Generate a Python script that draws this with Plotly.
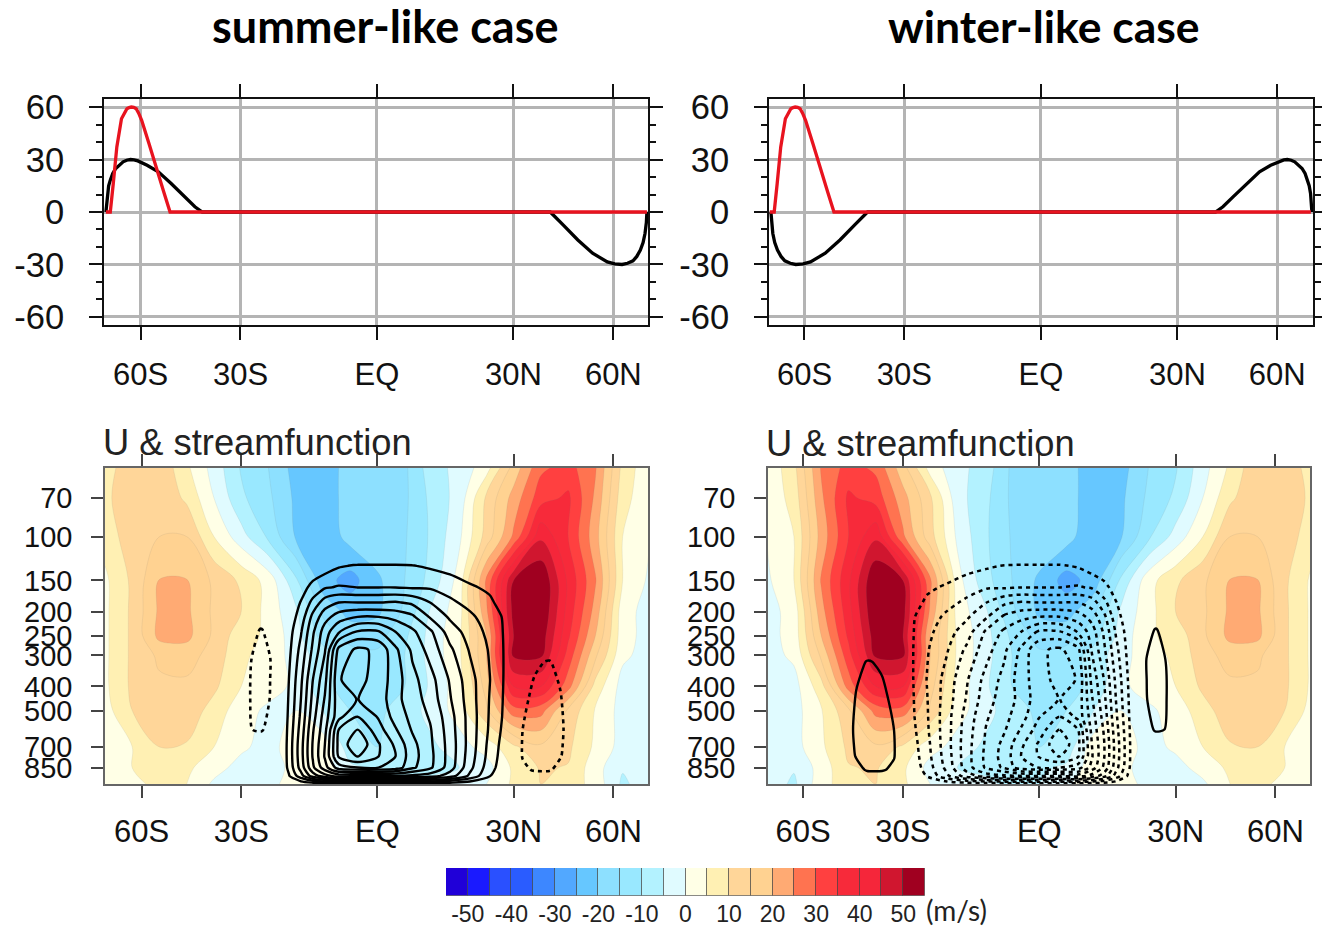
import plotly.graph_objects as go

# ---------- line panels ----------
black_s_x = [-.993,-.990,-.988,-.983,-.977,-.968,-.957,-.944,-.930,-.917,-.903,-.890,-.876,-.842,-.801,-.754,-.707,-.667,-.640,.635,.682,.736,.790,.844,.871,.898,.918,.938,.952,.965,.975,.982,.987,.989]
black_s_v = [0,6,10.6,15,18.2,22,24.9,27,28.7,29.6,30,29.8,29.2,26.7,23,16.3,9.1,3,0,0,-7.4,-16,-23.6,-28.5,-29.6,-30,-29.3,-27.9,-25.4,-21.8,-17.5,-12.3,-6,0]
red_x = [-.993,-.977,-.966,-.953,-.936,-.925,-.916,-.908,-.900,-.891,-.882,-.873,-.862,-.835,-.808,-.781,-.758,.989]
red_v = [0,0,16.3,37.2,53.3,57,59,59.7,60,59.8,59,56.5,52.4,39,24.7,11.4,0,0]
black_w_x = [-.989,-.987,-.982,-.975,-.965,-.952,-.938,-.918,-.898,-.871,-.844,-.790,-.736,-.682,-.635,.640,.667,.707,.754,.801,.842,.876,.890,.903,.917,.930,.944,.957,.968,.977,.983,.988,.990,.993]
black_w_v = [0,-6,-12.3,-17.5,-21.8,-25.4,-27.9,-29.3,-30,-29.6,-28.5,-23.6,-16,-7.4,0,0,3,9.1,16.3,23,26.7,29.2,29.8,30,29.6,28.7,27,24.9,22,18.2,15,10.6,6,0]

lat_ticks = [-0.866,-0.5,0,0.5,0.866]
lat_text = ["60S","30S","EQ","30N","60N"]
y_major = [-60,-30,0,30,60]
y_major_text = ["-60","-30","0","30","60"]
y_minor = [-50,-40,-20,-10,10,20,40,50]

# ---------- zonal wind ----------
u_x = [-1,-.9,-.8,-.7,-.6,-.5,-.4,-.3,-.2,-.1,0,.1,.2,.3,.4,.5,.6,.7,.8,.9,1]
u_p = [53,70,100,150,200,250,300,400,500,700,850,986]
u_summer = [
 [8,13,14,6,-2,-10.5,-15,-22,-24,-17,-16,-16,-7,-3.5,3,17,29,32,25.5,8.5,1],
 [9,13,14,9,0,-9,-14,-21,-24,-17,-16,-16,-8.5,-3,11,22,33,36,24,7,1],
 [7,13,15,15,5,-3,-11,-20.5,-24,-18,-16,-15.5,-9,-1,12,26,44,35,22,5,0],
 [4,11,20.2,20.2,14,9,3,-9,-23,-27,-21,-15,-8,2,26,50,55,39,25.5,5,-1],
 [4,11,21,21,14,10,3,-4,-16,-22,-21,-14,-4,3,24,52,55,38,23,2,-2],
 [4,11,21.5,21.5,14,7,4,-3,-12,-17,-17,-11,-3,4,20,50,53,36,20,2,-2],
 [4,11,16,17,13,6,3,-2,-8,-13,-14,-10,-3,4,20,51,51,33,16,1,-2],
 [4,11,14,14,11,5,2,-1,-8,-13,-13,-10,-4,3,17,40,40,27,8,-2,-3],
 [3,10,13,13,8,2,-1,0,-5,-10,-11,-8,-3,2,14,28,27,14,4.5,-2,-3],
 [2,5,10,9.5,5,1,-2,3,3,-8,-10,-8,-6,-2,2,9,14,11,4,-2,-3],
 [1,5,7,6,2,-2,-3,2,3,-4,-6,-7,-6,-5,-2,6,10.5,9.7,2,-4.5,-2],
 [1,3,7,5,-1,-2,-2,3,4,-1,-5,-6,-4,-3,0,6,10,8,3,-6,-2],
]
u_winter = [
 [1,8.5,25.5,32,29,17,3,-3.5,-7,-16,-16,-17,-24,-22,-15,-10.5,-2,6,14,13,8],
 [1,7,24,36,33,22,11,-3,-8.5,-16,-16,-17,-24,-21,-14,-9,0,9,14,13,9],
 [0,5,22,35,44,26,12,-1,-9,-15.5,-16,-18,-24,-20.5,-11,-3,5,15,15,13,7],
 [-1,5,25.5,39,55,50,26,2,-8,-15,-21,-27,-23,-9,3,9,14,20.2,20.2,11,4],
 [-2,2,23,38,55,52,24,3,-4,-14,-21,-22,-16,-4,3,10,14,21,21,11,4],
 [-2,2,20,36,53,50,20,4,-3,-11,-17,-17,-12,-3,4,7,14,21.5,21.5,11,4],
 [-2,1,16,33,51,51,20,4,-3,-10,-14,-13,-8,-2,3,6,13,17,16,11,4],
 [-3,-2,8,27,40,40,17,3,-4,-10,-13,-13,-8,-1,2,5,11,14,14,11,4],
 [-3,-2,4.5,14,27,28,14,2,-3,-8,-11,-10,-5,0,-1,2,8,13,13,10,3],
 [-3,-2,4,11,14,9,2,-2,-6,-8,-10,-8,3,3,-2,1,5,9.5,10,5,2],
 [-2,-4.5,2,9.7,10.5,6,-2,-5,-6,-7,-6,-4,3,2,-3,-2,2,6,7,5,1],
 [-2,-6,3,8,10,6,0,-3,-4,-6,-5,-1,4,3,-2,-2,-1,5,7,3,1],
]

# ---------- streamfunction (contour number, main cell) ----------
psi_p = [118,131,160,184,210,241,284,376,451,529,596,684,765,847,915,992]
psi_s_x = [-.354,-.325,-.281,-.237,-.193,-.142,-.073,.004,.066,.128,.193,.266,.339,.412,.460,.504]
psi_summer = [
 [0]*16,
 [0,0,0,.3,.45,.9,1.1,1.1,1.1,1.05,.85,.6,.3,0,0,0],
 [0,.1,.6,1.3,1.9,2.1,2,2,2,1.9,1.9,1.6,1.15,.8,.2,0],
 [0,.3,1.05,2.3,3.5,4,4,4,4.1,3.8,3,2.2,1.7,1.2,.6,0],
 [0,.45,1.4,3.3,4.6,5.5,6,6,5.7,5.2,3.9,2.85,2.2,1.5,.95,0],
 [0,.6,1.9,3.85,5.5,6.9,8.1,8.1,7,6.2,5.2,3.5,2.6,1.7,1,0],
 [0,.75,2.3,4.2,5.9,9.3,10.2,9.8,8.2,6.8,5.6,4.2,2.9,1.9,1.05,0],
 [0,1,2.8,5,6.7,9.95,10.3,9.6,8.5,7.3,6.4,4.9,3.4,2.03,1.05,0],
 [0,1.1,3,5.3,7.1,9.7,10.02,9.6,8.3,7.5,6.6,5.1,3.5,1.95,1,0],
 [0,1.2,3.2,5.6,7.5,9.7,11,9.9,8.6,7.7,6.9,5.4,3.6,1.9,.95,0],
 [0,1.3,3.4,5.9,7.7,11,12,10.4,9.1,7.9,7.1,5.5,3.6,1.85,.85,0],
 [0,1.4,3.6,6.1,8,11.3,12.8,11.1,9.8,8.3,7.2,5.6,3.6,1.7,.7,0],
 [0,1.4,3.6,6.1,8.1,11.1,12,11,10,8.4,7.3,5.6,3.5,1.6,.6,0],
 [0,1.3,3.4,5.8,7.6,9.5,10,10,9.6,8.2,7.2,5.5,3.3,1.4,.5,0],
 [0,.9,2.6,4.5,5.6,6.5,6,6,6,5.8,5.5,4.5,2.8,1.05,.2,0],
 [0]*16,
]
psi_w_x = [-.504,-.460,-.412,-.339,-.266,-.193,-.128,-.066,-.004,.073,.142,.193,.237,.281,.325,.354]
psi_winter = [
 [0]*16,
 [0,0,0,.3,.6,.85,1.05,1.1,1.1,1.1,.9,.45,.3,0,0,0],
 [0,.2,.8,1.15,1.6,1.9,1.9,2,2,2,2.1,1.9,1.3,.6,.1,0],
 [0,.6,1.2,1.7,2.2,3,3.8,4.1,4,4,4,3.5,2.3,1.05,.3,0],
 [0,.95,1.5,2.2,2.85,3.9,5.2,5.7,6,6,5.5,4.6,3.3,1.4,.45,0],
 [0,1,1.7,2.6,3.5,5.2,6.2,7,8.1,8.1,6.9,5.5,3.85,1.9,.6,0],
 [0,1.05,1.9,2.9,4.2,5.6,6.8,8.2,9.8,10.2,9.3,5.9,4.2,2.3,.75,0],
 [0,1.05,2.03,3.4,4.9,6.4,7.3,8.5,9.6,10.3,9.95,6.7,5,2.8,1,0],
 [0,1,1.95,3.5,5.1,6.6,7.5,8.3,9.6,10.02,9.7,7.1,5.3,3,1.1,0],
 [0,.95,1.9,3.6,5.4,6.9,7.7,8.6,9.9,11,9.7,7.5,5.6,3.2,1.2,0],
 [0,.85,1.85,3.6,5.5,7.1,7.9,9.1,10.4,12,11,7.7,5.9,3.4,1.3,0],
 [0,.7,1.7,3.6,5.6,7.2,8.3,9.8,11.1,12.8,11.3,8,6.1,3.6,1.4,0],
 [0,.6,1.6,3.5,5.6,7.3,8.4,10,11,12,11.1,8.1,6.1,3.6,1.4,0],
 [0,.5,1.4,3.3,5.5,7.2,8.2,9.6,10,10,9.5,7.6,5.8,3.4,1.3,0],
 [0,.2,1.05,2.8,4.5,5.5,5.8,6,6,6,6.5,5.6,4.5,2.6,.9,0],
 [0]*16,
]
psi_levels = (1, 13, 1)

# small opposite cells
cell_a_x = [-.5,-.467,-.427,-.394,-.361]
cell_a_p = [215,236,312,451,596,665]
cell_a = [
 [0,0,0,0,0],
 [0,.4,1.1,.4,0],
 [0,.9,1.8,1.05,0],
 [0,1,1.8,.95,0],
 [0,.95,1.2,.4,0],
 [0,0,0,0,0],
]
cell_b_x = [.485,.533,.577,.631,.679,.723]
cell_b_p = [284,318,412,596,765,865,970]
cell_b = [
 [0,0,0,0,0,0],
 [0,0,.8,1.1,.3,0],
 [0,.6,1.2,1.5,.9,0],
 [0,1,1.5,1.6,1.1,0],
 [0,1.05,1.5,1.5,.95,0],
 [0,.8,1.1,1.1,.6,0],
 [0,0,0,0,0,0],
]
cell_c_x = [-.723,-.679,-.631,-.577,-.533,-.485]
cell_c_p = cell_b_p
cell_c = [
 [0,0,0,0,0,0],
 [0,.3,1.1,.8,0,0],
 [0,.9,1.5,1.2,.6,0],
 [0,1.1,1.6,1.5,1,0],
 [0,.95,1.5,1.5,1.05,0],
 [0,.6,1.1,1.1,.8,0],
 [0,0,0,0,0,0],
]
cell_d_x = [.361,.394,.427,.467,.5]
cell_d_p = cell_a_p
cell_d = [
 [0,0,0,0,0],
 [0,.4,1.1,.4,0],
 [0,1.05,1.8,.9,0],
 [0,.95,1.8,1,0],
 [0,.4,1.2,.95,0],
 [0,0,0,0,0],
]

pressure_ticks = [70,100,150,200,250,300,400,500,700,850]

# ---------- colour bar ----------
cb_centres = [-52.5,-47.5,-42.5,-37.5,-32.5,-27.5,-22.5,-17.5,-12.5,-7.5,-2.5,2.5,7.5,12.5,17.5,22.5,27.5,32.5,37.5,42.5,47.5,52.5]
cb_colors = ["#2000d8","#1a1aff","#2a50ff","#2a5cff","#3d87ff","#52a8ff","#66c7ff","#8de0ff","#99e8ff","#b3f2ff",
             "#e0fbff","#ffffe6","#fff0b3","#ffd699","#ffd291","#ffaa73","#ff7350","#ff4040","#f72a3a","#f5263a","#d0162f","#a00020"]
cb_ticks = [-50,-40,-30,-20,-10,0,10,20,30,40,50]
cb_text = ["-50","-40","-30","-20","-10","0","10","20","30","40","50"]

W, H = 1322, 927
def dx(a, b): return [a / W, b / W]
def dy(top, bottom): return [1 - bottom / H, 1 - top / H]

step_scale = []
for i, c in enumerate(cb_colors):
    step_scale += [[i / len(cb_colors), c], [(i + 1) / len(cb_colors), c]]

TICKFONT = dict(family="Liberation Sans", size=31, color="#111")
fig = go.Figure()

def line(x, y, color, xa, ya):
    fig.add_trace(go.Scatter(x=x, y=y, mode="lines", line=dict(color=color, width=3.3), xaxis=xa, yaxis=ya,
                             showlegend=False, hoverinfo="skip"))

line(black_s_x, black_s_v, "black", "x", "y")
line(red_x, red_v, "#e8131f", "x", "y")
line(black_w_x, black_w_v, "black", "x2", "y2")
line(red_x, red_v, "#e8131f", "x2", "y2")

def u_panel(z, xa, ya):
    fig.add_trace(go.Contour(x=u_x, y=u_p, z=z, xaxis=xa, yaxis=ya, zmin=-55, zmax=55, colorscale=step_scale,
                             autocontour=False, contours=dict(start=-50, end=50, size=5, coloring="fill", showlines=True),
                             line=dict(color="rgba(110,110,110,0.18)", width=0.6, smoothing=1),
                             showscale=False, hoverinfo="skip"))

def psi_panel(x, p, z, lev, dash, xa, ya, width=2.4):
    fig.add_trace(go.Contour(x=x, y=p, z=z, xaxis=xa, yaxis=ya, autocontour=False,
                             contours=dict(start=lev[0], end=lev[1], size=lev[2], coloring="none"),
                             line=dict(color="black", width=width, dash=dash, smoothing=0.7),
                             showscale=False, hoverinfo="skip"))

u_panel(u_summer, "x3", "y3")
psi_panel(psi_s_x, psi_p, psi_summer, psi_levels, "solid", "x3", "y3")
psi_panel(cell_a_x, cell_a_p, cell_a, (1, 1, 1), "4px,4px", "x3", "y3", 2.6)
psi_panel(cell_b_x, cell_b_p, cell_b, (1, 1, 1), "4px,4px", "x3", "y3", 2.6)
u_panel(u_winter, "x4", "y4")
psi_panel(psi_w_x, psi_p, psi_winter, psi_levels, "4px,4px", "x4", "y4", 2.5)
psi_panel(cell_c_x, cell_c_p, cell_c, (1, 1, 1), "solid", "x4", "y4")
psi_panel(cell_d_x, cell_d_p, cell_d, (1, 1, 1), "solid", "x4", "y4")

fig.add_trace(go.Bar(x=cb_centres, y=[1] * len(cb_centres), width=5, marker=dict(color=cb_colors, line=dict(color="rgba(60,60,60,0.6)", width=1)),
                     xaxis="x5", yaxis="y5", showlegend=False, hoverinfo="skip"))

def top_axes(n, xd, yd, xr):
    s = "" if n == 1 else str(n)
    fig.layout["xaxis" + s] = dict(domain=xd, anchor="y" + s, range=xr, tickvals=lat_ticks, ticktext=lat_text,
        ticks="outside", ticklen=13, tickwidth=2, tickcolor="#111", showline=True, linecolor="#111", linewidth=2, mirror="ticks",
        showgrid=True, gridcolor="#b4b4b4", gridwidth=2.5, zeroline=False, tickfont=TICKFONT, ticklabelstandoff=8)
    fig.layout["yaxis" + s] = dict(domain=yd, anchor="x" + s, range=[-64.6, 64.6], tickvals=y_major, ticktext=y_major_text,
        ticks="outside", ticklen=13, tickwidth=2, tickcolor="#111", showline=True, linecolor="#111", linewidth=2, mirror="ticks",
        showgrid=True, gridcolor="#b4b4b4", gridwidth=2.5, zeroline=False, tickfont=dict(family="Liberation Sans", size=34.5, color="#111"),
        ticklabelstandoff=18, minor=dict(tickvals=y_minor, ticks="outside", ticklen=6, tickwidth=1.5, tickcolor="#111", showgrid=False))

def bottom_axes(n, xd, yd, xr):
    s = str(n)
    fig.layout["xaxis" + s] = dict(domain=xd, anchor="y" + s, range=xr, tickvals=lat_ticks, ticktext=lat_text,
        ticks="outside", ticklen=12, tickwidth=1.5, tickcolor="#444", showline=True, linecolor="#666", linewidth=1.5, mirror="ticks",
        showgrid=False, zeroline=False, tickfont=TICKFONT, ticklabelstandoff=7)
    fig.layout["yaxis" + s] = dict(domain=yd, anchor="x" + s, type="log", range=[2.9939, 1.7243], tickmode="array",
        tickvals=pressure_ticks, ticktext=[str(v) for v in pressure_ticks],
        ticks="outside", ticklen=12, tickwidth=1.5, tickcolor="#444", showline=True, linecolor="#666", linewidth=1.5, mirror=True,
        showgrid=False, zeroline=False, tickfont=dict(family="Liberation Sans", size=29, color="#111"), ticklabelstandoff=13)

top_axes(1, dx(104, 648), dy(99, 325), [-1.0, 0.993])
top_axes(2, dx(769, 1313), dy(99, 325), [-0.996, 0.997])
bottom_axes(3, dx(105, 648), dy(468, 784), [-1.0, 0.993])
bottom_axes(4, dx(768, 1310), dy(468, 784), [-0.995, 0.993])
fig.layout["xaxis5"] = dict(domain=dx(446, 925), anchor="y5", range=[-55, 55], tickvals=cb_ticks, ticktext=cb_text,
    ticks="", showline=False, showgrid=False, zeroline=False, tickfont=dict(family="Liberation Sans", size=23, color="#222"),
    ticklabelstandoff=2)
fig.layout["yaxis5"] = dict(domain=dy(868, 896), anchor="x5", range=[0, 1], showticklabels=False, ticks="",
    showline=False, showgrid=False, zeroline=False)

def note(text, px, py, font, xanchor="center"):
    fig.add_annotation(text=text, x=px / W, y=1 - py / H, xref="paper", yref="paper", xanchor=xanchor, yanchor="middle",
                       showarrow=False, font=font)

note("<b>summer-like case</b>", 385, 26, dict(family="Lato", size=45, color="black"))
note("<b>winter-like case</b>", 1044, 26, dict(family="Lato", size=44.5, color="black"))
note("U &amp; streamfunction", 101, 442, dict(family="Liberation Sans", size=36.3, color="#222"), "left")
note("U &amp; streamfunction", 764, 443, dict(family="Liberation Sans", size=36.3, color="#222"), "left")
note("(m/s)", 924, 910, dict(family="Lato", size=28, color="#222"), "left")

fig.update_layout(width=W, height=H, autosize=False, margin=dict(l=0, r=0, t=0, b=0, autoexpand=False), paper_bgcolor="white",
                  plot_bgcolor="white", showlegend=False, bargap=0)
fig.write_html("out.html", config={"displayModeBar": False},
               post_script="document.body.style.margin='0';document.documentElement.style.overflow='hidden';")
